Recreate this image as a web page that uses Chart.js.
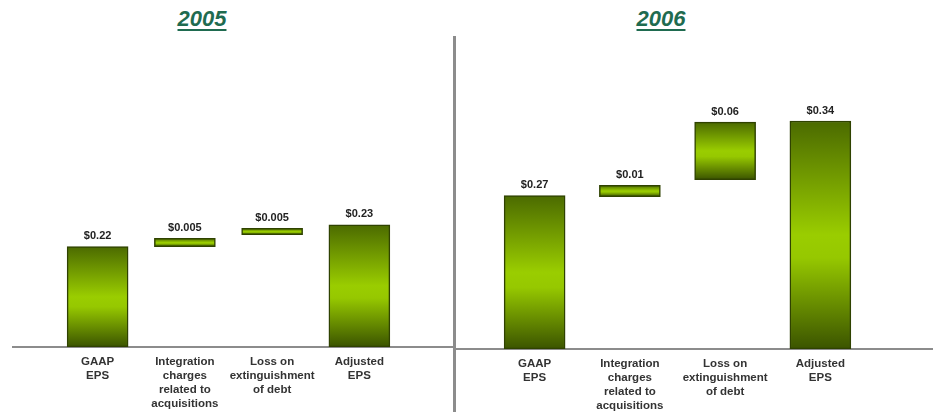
<!DOCTYPE html>
<html>
<head>
<meta charset="utf-8">
<script src="https://cdn.jsdelivr.net/npm/chart.js@4.4.1/dist/chart.umd.min.js"></script>
<style>
  body { margin: 0; background: #fff; width: 933px; height: 412px; position: relative; overflow: hidden; font-family: "Liberation Sans", Arial, sans-serif; }
  .title { position: absolute; top: 6px; width: 100px; text-align: center; font-size: 22px; font-weight: bold; font-style: italic; color: #1f6b50; text-decoration: underline; text-underline-offset: 3px; }
  .box { position: absolute; top: 0; height: 413px; }
  #sep { position: absolute; left: 453px; top: 36px; width: 3px; height: 376px; background: #8c8c8c; }
</style>
</head>
<body>
<div class="title" style="left:152px">2005</div>
<div class="title" style="left:611px">2006</div>
<div class="box" style="left:0;width:455px"><canvas id="c2005"></canvas></div>
<div class="box" style="left:455px;width:478px"><canvas id="c2006"></canvas></div>
<div id="sep"></div>
<script>
// categories shared by both years
var categories = [
  ['GAAP', 'EPS'],
  ['Integration', 'charges', 'related to', 'acquisitions'],
  ['Loss on', 'extinguishment', 'of debt'],
  ['Adjusted', 'EPS']
]

// printed values
var labels2005 = ['$0.22', '$0.005', '$0.005', '$0.23']
var labels2006 = ['$0.27', '$0.01', '$0.06', '$0.34']

// floating bars [start, end] as drawn in the picture (not to exact scale)
var bars2005 = [[0, 0.22], [0.22, 0.238], [0.246, 0.26], [0, 0.268]]
var bars2006 = [[0, 0.27], [0.268, 0.288], [0.298, 0.399], [0, 0.401]]

function barFill(context) {
  var chart = context.chart
  if (!chart.chartArea || context.type !== 'data') return '#8cbf00'
  var v = context.raw
  var y = chart.scales.y
  var top = y.getPixelForValue(Math.max(v[0], v[1]))
  var bot = y.getPixelForValue(Math.min(v[0], v[1]))
  var g = chart.ctx.createLinearGradient(0, top, 0, bot)
  g.addColorStop(0, '#4b6a00')
  g.addColorStop(0.5, '#9acd00')
  g.addColorStop(0.6, '#96c800')
  g.addColorStop(1, '#3b5400')
  return g
}

// baseline drawn across the whole panel
var baseLine = {
  id: 'baseLine',
  beforeDatasetsDraw: function(chart, args, opts) {
    var ctx = chart.ctx
    var y0 = chart.scales.y.getPixelForValue(0)
    ctx.save()
    ctx.strokeStyle = '#8c8c8c'
    ctx.lineWidth = 2
    ctx.beginPath()
    ctx.moveTo(opts.from || 0, y0)
    ctx.lineTo(chart.width, y0)
    ctx.stroke()
    ctx.restore()
  }
}

// value labels above each bar
var valueLabels = {
  id: 'valueLabels',
  afterDatasetsDraw: function(chart, args, opts) {
    var ctx = chart.ctx
    var meta = chart.getDatasetMeta(0)
    ctx.save()
    ctx.font = 'bold 11px "Liberation Sans", Arial, sans-serif'
    ctx.fillStyle = '#222'
    ctx.textAlign = 'center'
    ctx.textBaseline = 'bottom'
    meta.data.forEach(function(bar, i) {
      var top = Math.min(bar.y, bar.base)
      ctx.fillText(opts.texts[i], bar.x, top - 5)
    })
    ctx.restore()
  }
}

function makeChart(id, bars, texts, ymax, pad) {
  return new Chart(document.getElementById(id), {
    type: 'bar',
    data: {
      labels: categories,
      datasets: [{
        data: bars,
        backgroundColor: barFill,
        borderColor: '#2f4200',
        borderWidth: 1.5,
        borderSkipped: false,
        barThickness: 61
      }]
    },
    options: {
      responsive: true,
      maintainAspectRatio: false,
      animation: false,
      layout: { padding: pad },
      plugins: {
        legend: { display: false },
        tooltip: { enabled: false },
        baseLine: { from: pad.lineFrom },
        valueLabels: { texts: texts }
      },
      scales: {
        x: {
          grid: { display: false },
          border: { display: false },
          ticks: {
            padding: 0,
            color: '#333',
            maxRotation: 0,
            autoSkip: false,
            font: { family: '"Liberation Sans", Arial, sans-serif', size: 11.5, weight: 'bold', lineHeight: 1.22 }
          }
        },
        y: { display: false, min: 0, max: ymax }
      }
    },
    plugins: [baseLine, valueLabels]
  })
}

makeChart('c2005', bars2005, labels2005, 0.761, { left: 54, right: 52, top: 0, bottom: 2, lineFrom: 12 })
makeChart('c2006', bars2006, labels2006, 0.614, { left: 32, right: 65, top: 0, bottom: 0, lineFrom: 0 })
</script>
</body>
</html>
